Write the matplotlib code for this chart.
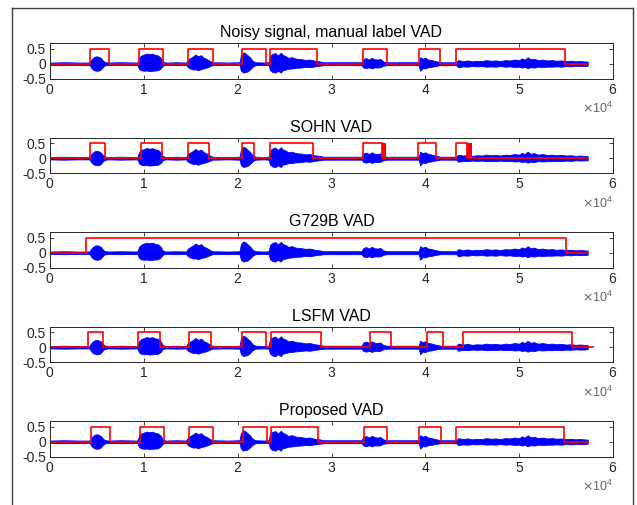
#Plot noisy signal with VAD decisions of several detectors, one panel each

import numpy as np
import matplotlib.pyplot as plt
from matplotlib.lines import Line2D

plt.rcParams['font.family'] = ['Liberation Sans', 'DejaVu Sans']
plt.rcParams['axes.unicode_minus'] = False

######## DATA ##################################################################
#Signal envelope: sample index, upper and lower amplitude
envX = [0, 1500, 3000, 4200, 4400, 4600, 4800, 5000, 5200, 5400, 5600, 5800, 6200,
        7500, 9300, 9500, 9700, 10000, 10300, 10600, 10900, 11200, 11500, 11800, 12000, 12300,
        13500, 14500, 14700, 15000, 15300, 15500, 15800, 16100, 16400, 16700, 17000, 17300,
        19000, 20200, 20350, 20600, 20800, 21000, 21300, 21600, 21900,
        22800, 23300, 23450, 23700, 24000, 24300, 24600, 24800, 25100, 25400, 25800, 26200,
        26700, 27200, 27700, 28200, 28700, 29200,
        31000, 33200, 33400, 33700, 34000, 34300, 34600, 34900, 35200, 35500, 35900,
        37500, 39300, 39450, 39700, 40000, 40300, 40600, 40900, 41200, 41600,
        42500, 43300, 43500, 44000, 44500, 45000, 45500, 46000, 46500, 47000, 47500,
        48000, 48500, 49000, 49500, 50000, 50300, 50600, 50900, 51200, 51600, 52000,
        52500, 53000, 53500, 54000, 54500, 55000, 55500, 56000, 56500, 57300]
envTop = [0.04, 0.05, 0.04, 0.04, 0.14, 0.2, 0.24, 0.25, 0.23, 0.2, 0.12, 0.06, 0.04,
          0.05, 0.04, 0.2, 0.27, 0.31, 0.34, 0.32, 0.34, 0.3, 0.28, 0.2, 0.08, 0.04,
          0.05, 0.04, 0.14, 0.2, 0.26, 0.31, 0.25, 0.29, 0.2, 0.16, 0.1, 0.05,
          0.04, 0.05, 0.3, 0.38, 0.36, 0.3, 0.22, 0.1, 0.05,
          0.04, 0.05, 0.26, 0.33, 0.36, 0.28, 0.37, 0.3, 0.26, 0.2, 0.22, 0.17,
          0.16, 0.13, 0.14, 0.1, 0.08, 0.05,
          0.05, 0.05, 0.16, 0.19, 0.14, 0.2, 0.15, 0.14, 0.16, 0.08, 0.05,
          0.05, 0.05, 0.22, 0.17, 0.2, 0.14, 0.13, 0.1, 0.08, 0.05,
          0.05, 0.05, 0.12, 0.09, 0.11, 0.08, 0.1, 0.09, 0.12, 0.1, 0.11,
          0.09, 0.12, 0.11, 0.14, 0.12, 0.18, 0.14, 0.22, 0.15, 0.17, 0.12,
          0.14, 0.11, 0.12, 0.1, 0.11, 0.09, 0.1, 0.08, 0.09, 0.07]
envBot = [-0.04, -0.05, -0.04, -0.04, -0.14, -0.2, -0.23, -0.24, -0.23, -0.2, -0.12, -0.06, -0.04,
          -0.05, -0.04, -0.18, -0.22, -0.24, -0.23, -0.25, -0.24, -0.23, -0.22, -0.16, -0.07, -0.04,
          -0.05, -0.04, -0.12, -0.17, -0.2, -0.19, -0.22, -0.18, -0.16, -0.13, -0.09, -0.05,
          -0.04, -0.05, -0.24, -0.3, -0.28, -0.27, -0.2, -0.1, -0.05,
          -0.04, -0.05, -0.22, -0.28, -0.3, -0.24, -0.3, -0.22, -0.2, -0.17, -0.16, -0.14,
          -0.13, -0.11, -0.12, -0.09, -0.07, -0.05,
          -0.05, -0.05, -0.13, -0.15, -0.12, -0.16, -0.12, -0.13, -0.12, -0.07, -0.05,
          -0.05, -0.05, -0.24, -0.15, -0.16, -0.12, -0.11, -0.09, -0.07, -0.05,
          -0.05, -0.05, -0.12, -0.09, -0.1, -0.08, -0.09, -0.08, -0.1, -0.09, -0.1,
          -0.08, -0.1, -0.09, -0.11, -0.1, -0.13, -0.11, -0.15, -0.12, -0.13, -0.1,
          -0.11, -0.1, -0.1, -0.09, -0.1, -0.08, -0.09, -0.07, -0.08, -0.07]

titles = ['Noisy signal, manual label VAD', 'SOHN VAD', 'G729B VAD', 'LSFM VAD', 'Proposed VAD']

#VAD on/off segments (sample index) for each detector
manualVad = [(4255, 6310), (9500, 12060), (14750, 17380), (20430, 23050),
             (23480, 28500), (33370, 35920), (39330, 41600), (43240, 54850)]
sohnVad = [(4255, 5890), (9720, 11920), (14730, 16970), (20430, 21720),
           (23480, 28040), (33400, 35390), (39250, 41150), (43320, 44400)]
g729bVad = [(3850, 54970)]
lsfmVad = [(4020, 5620), (9420, 11720), (14830, 17120), (20450, 23040),
           (23560, 28920), (34070, 36320), (40210, 41890), (44010, 55600)]
proposedVad = [(4320, 6400), (9550, 12150), (14830, 17420), (20540, 23090),
               (23560, 28530), (33480, 35890), (39340, 41630), (43230, 54820)]
vads = [manualVad, sohnVad, g729bVad, lsfmVad, proposedVad]
vadEnds = [57300, 57300, 57300, 57900, 57300]

#SOHN toggles quickly at the end of two segments (drawn as solid blocks)
sohnToggles = [(35390, 35800), (44400, 45000)]

xTicks = [0, 10000, 20000, 30000, 40000, 50000, 60000]
yTicks = [-0.5, 0, 0.5]
################################################################################

######## HELPERS ###############################################################
def vadToStep(segs, end):
    xs, ys = [0], [0]
    for on, off in segs:
        xs += [on, on, off, off]
        ys += [0, 0.5, 0.5, 0]
    xs.append(end)
    ys.append(0)
    return xs, ys

def styleAxis(ax):
    ax.set_xlim(0, 60000)
    ax.set_ylim(-0.5, 0.7)
    ax.set_xticks(xTicks)
    ax.set_yticks(yTicks)
    ax.set_yticklabels(['-0.5', '0', '0.5'])
    ax.ticklabel_format(axis='x', style='sci', scilimits=(0, 0), useMathText=True)
    ax.tick_params(direction='in', top=True, right=True, length=3, width=0.6,
                   labelsize=10, colors='#262626', pad=3)
    ax.xaxis.get_offset_text().set_fontsize(9)
    ax.xaxis.get_offset_text().set_color('#666666')
    for sp in ax.spines.values():
        sp.set_color('#262626')
        sp.set_linewidth(0.7)
################################################################################

######## MASTER FUNCTION #######################################################
def masterFunction():
    W, H = 637, 505
    fig = plt.figure(figsize=(W / 100, H / 100), dpi=100)
    left, right = 50, 613
    tops = [43, 137.5, 232, 326.5, 421]
    height = 35.5
    #outer frame of the figure window
    fx0, fx1, fy0 = 12 / W, 633 / W, 1 - 8 / H
    for xs, ys in [([fx0, fx0], [-0.01, fy0]), ([fx0, fx1], [fy0, fy0]), ([fx1, fx1], [fy0, -0.01])]:
        fig.add_artist(Line2D(xs, ys, color='#404040', lw=1.0))
    for i in range(5):
        ax = fig.add_axes([left / W, 1 - (tops[i] + height) / H, (right - left) / W, height / H])
        ax.fill_between(envX, envBot, envTop, color='#0000ff', lw=0.6)
        xs, ys = vadToStep(vads[i], vadEnds[i])
        ax.plot(xs, ys, color='#ff0000', lw=1.2)
        if i == 1:
            for a, b in sohnToggles:
                ax.fill_between([a, b], [0, 0], [0.5, 0.5], color='#ff0000', lw=0)
        styleAxis(ax)
        ax.set_title(titles[i], fontsize=11.5, color='#000000', pad=4)
    fig.savefig('out.png', dpi=100)
################################################################################

masterFunction()
